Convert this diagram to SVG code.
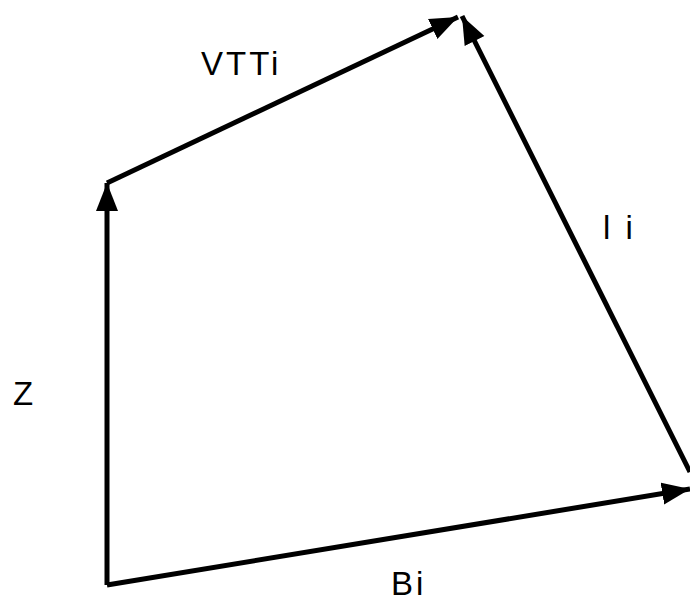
<svg xmlns="http://www.w3.org/2000/svg" width="690" height="601" viewBox="0 0 690 601">
<style>
.v{stroke:#000;stroke-width:5;fill:none;marker-end:url(#ah)}
.l{font-family:"Liberation Sans",Arial,sans-serif;font-size:33px;fill:#000;letter-spacing:3px}
</style>
<defs>
<marker id="ah" markerUnits="userSpaceOnUse" markerWidth="30" markerHeight="24" refX="28" refY="12" orient="auto">
<path d="M0,1 L28,12 L0,23 Z" fill="#000"/>
</marker>
</defs>
<rect width="690" height="601" fill="#fff"/>
<g id="connectors">
<path class="v" d="M107,585 L107,183"/>
<path class="v" d="M107,183 L458,17"/>
<path class="v" d="M690,472 L462,16"/>
<path class="v" d="M107,585 L690,489"/>
</g>
<g id="label-VTTi"><text class="l" x="201" y="75">VTTi</text></g>
<g id="label-li"><text class="l" x="603" y="239">l i</text></g>
<g id="label-Z"><text class="l" x="13" y="405">Z</text></g>
<g id="label-Bi"><text class="l" x="391" y="595">Bi</text></g>
</svg>
